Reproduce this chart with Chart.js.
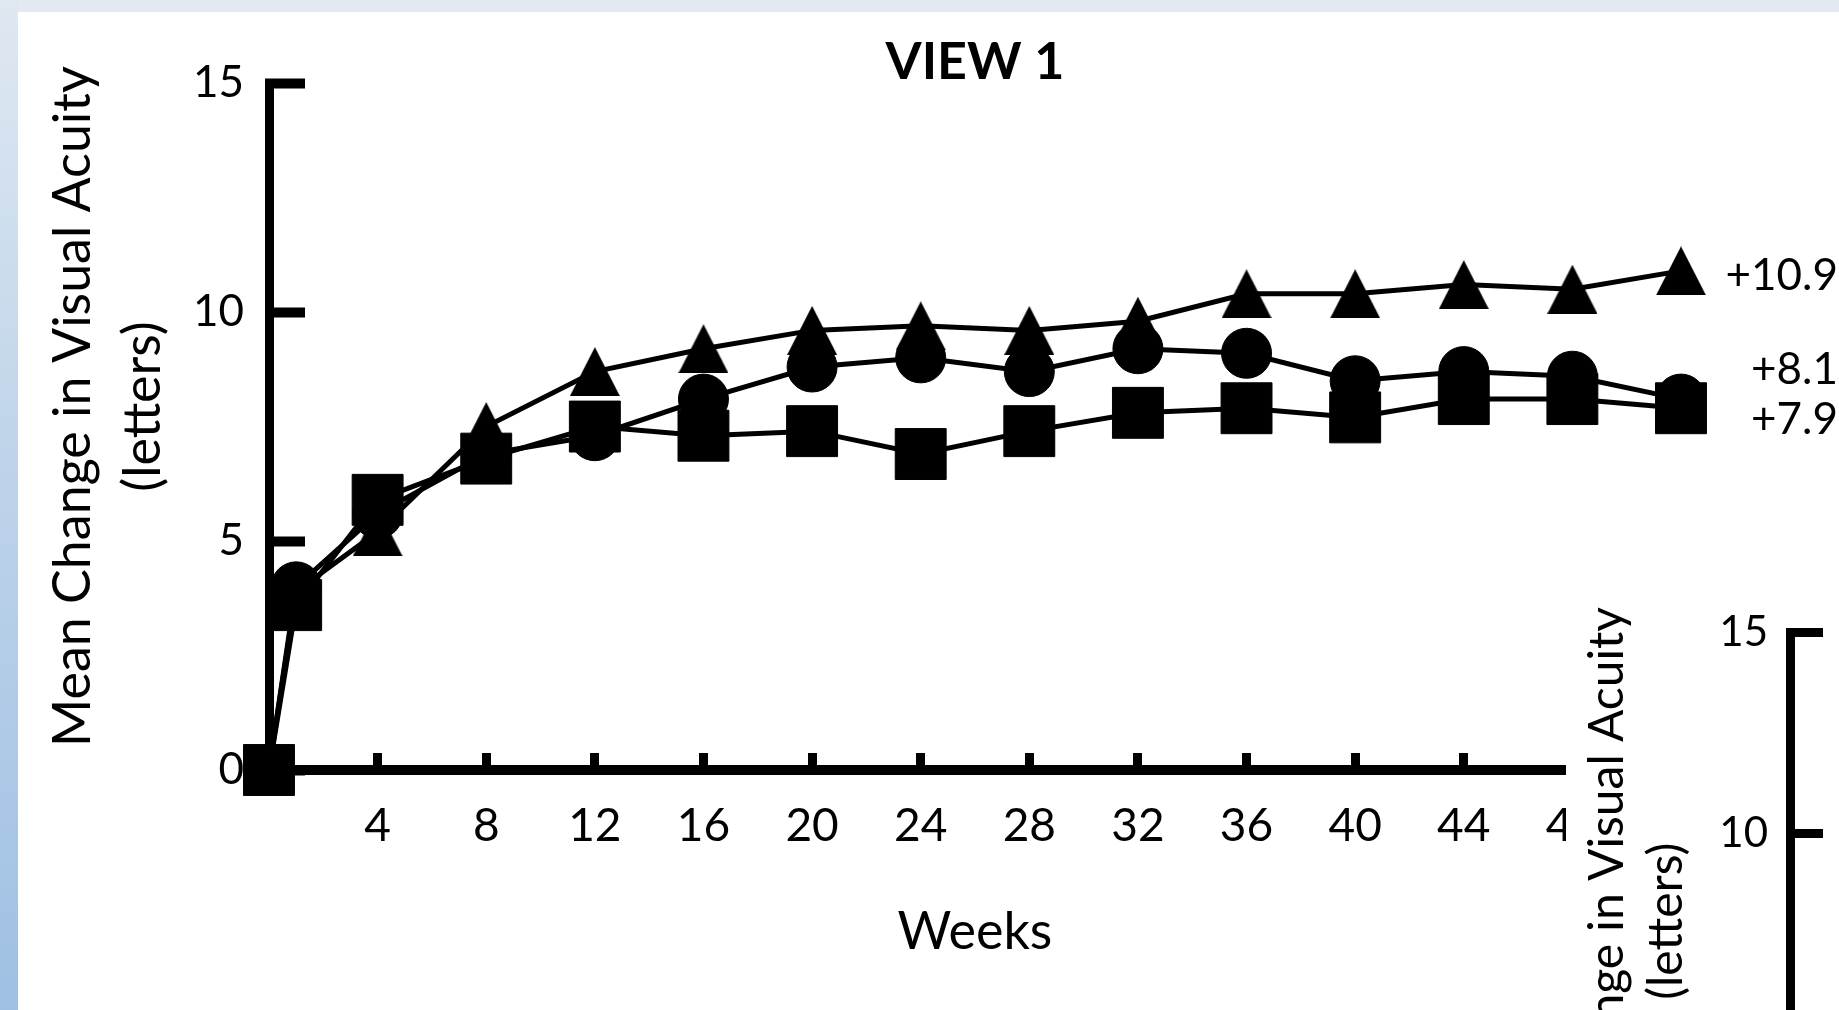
<!DOCTYPE html>
<html>
<head>
	<title>VIEW 1</title>
	<script src="https://cdn.jsdelivr.net/npm/chart.js@4.4.1/dist/chart.umd.min.js"></script>
<style>
html, body { margin: 0; padding: 0; overflow: hidden; background: #fff; }
#page { position: relative; width: 1839px; height: 1010px; overflow: hidden; background: #fff; }
#topband { position: absolute; left: 0; top: 0; width: 1839px; height: 12px; background: #e2e9f1; }
#sideband { position: absolute; left: 0; top: 0; width: 18px; height: 1010px; background: linear-gradient(#dfe8f1, #bfd4ea 45%, #9fc0e3); }
#view1 { position: absolute; left: 0; top: 0; }
#view2 { position: absolute; left: 1566px; top: 560px; background: #fff; }
</style>
</head>
<body>
<div id="page">
	<div id="topband"></div>
	<div id="sideband"></div>
	<canvas id="view1" width="1839" height="1010"></canvas>
	<canvas id="view2" width="273" height="737"></canvas>
</div>

<script>
// weeks of follow-up
var weeks = [0, 1, 4, 8, 12, 16, 20, 24, 28, 32, 36, 40, 44, 48, 52];

// mean change in visual acuity (letters), one list per arm
var triangleArm = [0, 3.9, 5.2, 7.5, 8.7, 9.2, 9.6, 9.7, 9.6, 9.8, 10.4, 10.4, 10.6, 10.5, 10.9];
var circleArm   = [0, 4.0, 5.6, 6.9, 7.3, 8.1, 8.8, 9.0, 8.7, 9.2, 9.1, 8.5, 8.7, 8.6, 8.1];
var squareArm   = [0, 3.6, 5.9, 6.8, 7.5, 7.3, 7.4, 6.9, 7.4, 7.8, 7.9, 7.7, 8.1, 8.1, 7.9];

var endLabels = ['+10.9', '+8.1', '+7.9'];

// leading spaces nudge the rotated title up a little, as in the slide
var yTitle = ['   Mean Change in Visual Acuity', '   (letters)'];
var yTitle2 = ['  Mean Change in Visual Acuity', '  (letters)'];
var xTitle = 'Weeks';
var chartTitle = 'VIEW 1';

var FONT = 'Lato';

// filled triangle centred on its box (built-in one sits high on the point)
function makeTriangle(w, h) {
	var c = document.createElement('canvas');
	c.width = w;
	c.height = h;
	var g = c.getContext('2d');
	g.fillStyle = '#000';
	g.beginPath();
	g.moveTo(w / 2, 0);
	g.lineTo(w, h);
	g.lineTo(0, h);
	g.closePath();
	g.fill();
	return c;
}

function pairs(values) {
	return values.map(function (v, i) { return {x: weeks[i], y: v}; });
}

function arm(label, values, style, radius) {
	return {
		label: label,
		data: pairs(values),
		borderColor: '#000',
		borderWidth: 5,
		backgroundColor: '#000',
		pointStyle: style,
		pointRadius: radius,
		pointBackgroundColor: '#000',
		pointBorderColor: '#000',
		pointBorderWidth: 1,
		tension: 0,
		fill: false,
		clip: false
	};
}

var endLabelPlugin = {
	id: 'endLabels',
	afterDatasetsDraw: function (chart) {
		var ctx = chart.ctx;
		var shifts = [5, -29, 12];
		ctx.save();
		ctx.font = '44px ' + FONT;
		ctx.fillStyle = '#000';
		ctx.textAlign = 'right';
		ctx.textBaseline = 'middle';
		chart.data.datasets.forEach(function (ds, i) {
			var pts = chart.getDatasetMeta(i).data;
			var last = pts[pts.length - 1];
			ctx.fillText(endLabels[i], chart.width - 1, last.y + shifts[i]);
		});
		ctx.restore();
	}
};

var view1 = new Chart(document.getElementById('view1'), {
	type: 'line',
	data: {
		datasets: [
			arm('Triangle arm', triangleArm, makeTriangle(50, 49), 25),
			arm('Circle arm', circleArm, 'circle', 25),
			arm('Square arm', squareArm, 'rect', 36)
		]
	},
	options: {
		responsive: false,
		animation: false,
		events: [],
		layout: {
			padding: {left: 0, right: 158, top: 0, bottom: 0}
		},
		plugins: {
			legend: {display: false},
			tooltip: {enabled: false},
			title: {
				display: true,
				text: chartTitle,
				fullSize: false,
				color: '#000',
				font: {family: FONT, size: 52, weight: 'bold', lineHeight: 0.81},
				padding: {top: 41, bottom: 0}
			}
		},
		scales: {
			x: {
				type: 'linear',
				min: 0,
				max: 52,
				border: {display: true, color: '#000', width: 10},
				grid: {display: true, drawOnChartArea: false, drawTicks: true, tickLength: -17, tickWidth: 9, tickColor: '#000'},
				ticks: {
					stepSize: 4,
					autoSkip: false,
					maxRotation: 0,
					color: '#000',
					padding: 46,
					font: {family: FONT, size: 46},
					callback: function (v) { return v === 0 ? '' : v; }
				},
				title: {
					display: true,
					text: xTitle,
					color: '#000',
					font: {family: FONT, size: 52, lineHeight: 1.2},
					padding: {top: 0, bottom: 47}
				},
				afterFit: function (s) { s.height = 240; }
			},
			y: {
				min: 0,
				max: 15,
				border: {display: true, color: '#000', width: 9},
				grid: {display: true, drawOnChartArea: false, drawTicks: true, tickLength: -36, tickWidth: 10, tickColor: '#000'},
				ticks: {
					stepSize: 5,
					color: '#000',
					padding: 61,
					font: {family: FONT, size: 44, lineHeight: 0.4}
				},
				title: {
					display: true,
					text: yTitle,
					color: '#000',
					font: {family: FONT, size: 52, lineHeight: 1.33},
					padding: {top: 39, bottom: 0}
				},
				afterFit: function (s) { s.width = 269; }
			}
		}
	},
	plugins: [endLabelPlugin]
});

// second panel, pasted over the lower right corner; only its axis shows
var view2 = new Chart(document.getElementById('view2'), {
	type: 'line',
	data: {labels: [], datasets: []},
	options: {
		responsive: false,
		animation: false,
		events: [],
		layout: {
			padding: {left: 0, right: 0, top: 72, bottom: 62}
		},
		plugins: {
			legend: {display: false},
			tooltip: {enabled: false}
		},
		scales: {
			x: {display: false},
			y: {
				min: 0,
				max: 15,
				border: {display: true, color: '#000', width: 9},
				grid: {display: true, drawOnChartArea: false, drawTicks: true, tickLength: -33, tickWidth: 9, tickColor: '#000'},
				ticks: {
					stepSize: 5,
					color: '#000',
					padding: 55,
					font: {family: FONT, size: 42, lineHeight: 0.3}
				},
				title: {
					display: true,
					text: yTitle2,
					color: '#000',
					font: {family: FONT, size: 48, lineHeight: 1.23},
					padding: {top: 12, bottom: 0}
				},
				afterFit: function (s) { s.width = 224; }
			}
		}
	}
});
</script>
</body>
</html>
